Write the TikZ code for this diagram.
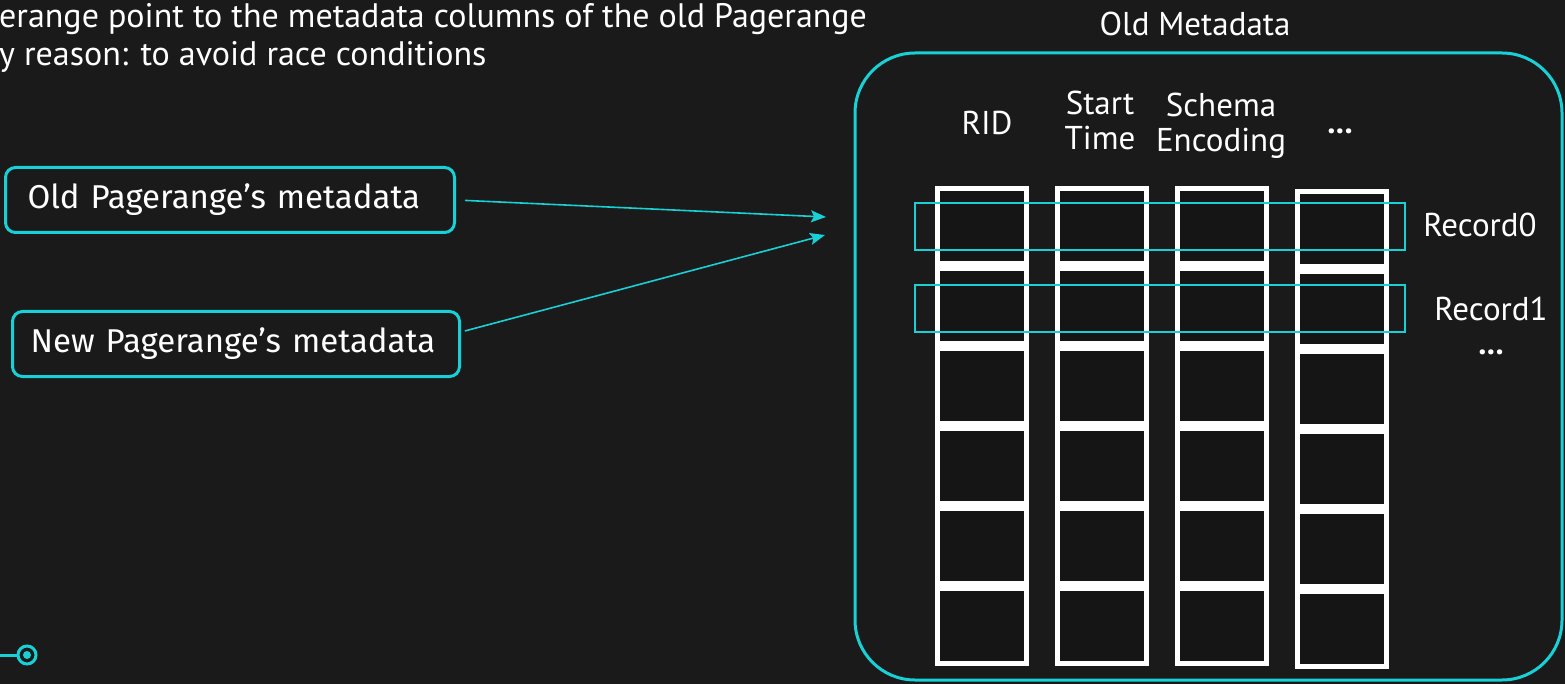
\documentclass[tikz,border=0pt]{standalone}
\usepackage{fontspec}
\setmainfont{PT Sans}
\newfontfamily\boxfont{Fira Sans}
\usetikzlibrary{arrows.meta}
\definecolor{bgcol}{HTML}{1A1A1A}
\definecolor{cellcol}{HTML}{151515}
\definecolor{accent}{HTML}{18D0D6}

\tikzset{
  label txt/.style={text=white, inner sep=0pt, font=\fontsize{33}{35}\selectfont},
  head txt/.style={label txt, align=center},
  dots txt/.style={label txt, font=\bfseries\fontsize{33}{35}\selectfont},
  pill/.style={draw=accent, line width=3pt, rounded corners=10pt, fill=bgcol,
    text=white, inner ysep=0pt, align=left, minimum height=65pt,
    font=\boxfont\fontsize{33}{36}\selectfont},
  cellbox/.style={draw=white, line width=5pt, fill=cellcol, inner sep=0pt,
    minimum width=89pt, minimum height=75pt, anchor=north west},
  recbox/.style={draw=accent, line width=1.6pt, inner sep=0pt,
    minimum width=490pt, minimum height=47pt},
  link/.style={draw=accent, line width=1.6pt,
    -{Stealth[length=15pt,width=12pt,inset=3pt]}},
}

\begin{document}
\begin{tikzpicture}[x=1pt,y=-1pt]
  \useasboundingbox (0,0) rectangle (1565,684);
  \fill[bgcol] (0,0) rectangle (1565,684);

  % caption lines at the top
  \node[label txt, anchor=base west, font=\fontsize{34}{36}\selectfont] (cap1) at (-1,28)
    {erange point to the metadata columns of the old Pagerange};
  \node[label txt, anchor=base west, font=\fontsize{34}{36}\selectfont] (cap2) at (-1,66)
    {y reason: to avoid race conditions};

  % the two metadata boxes
  \node[pill, inner xsep=22pt, text width=405pt] (oldmeta) at (230,200)
    {Old Pagerange’s metadata};
  \node[pill, inner xsep=18pt, text width=411pt] (newmeta) at (236,344)
    {New Pagerange’s metadata};

  % container of the old metadata columns
  \node[label txt, anchor=base] (title) at (1195,36) {Old Metadata};
  \draw[accent, line width=3pt, rounded corners=60pt] (855,53) rectangle (1562,680);

  % column headings (multi-line nodes sit on the baseline of their last line)
  \node[label txt, anchor=base] (hrid) at (987,135) {RID};
  \node[head txt, anchor=base] (hstart) at (1100,150) {Start\\Time};
  \node[head txt, anchor=base] (hschema) at (1221,152) {Schema\\Encoding};
  \node[dots txt, anchor=base] (hmore) at (1340,134) {...};

  % columns of cells
  \foreach \c/\x/\dy in {1/935/0, 2/1055/0, 3/1175/0, 4/1295/3} {
    \foreach \r in {0,...,5} {
      \node[cellbox] (cell-\c-\r) at (\x, 186+\dy+80*\r) {};
    }
  }

  % record rows
  \node[recbox] (rec0) at (1160,226.5) {};
  \node[recbox] (rec1) at (1160,308.5) {};
  \node[label txt, anchor=base] (lrec0) at (1480,237) {Record0};
  \node[label txt, anchor=base] (lrec1) at (1491,320) {Record1};
  \node[dots txt, anchor=base] (lmore) at (1491,354) {...};

  % connectors into the container
  \coordinate (tip0) at (826,217);
  \coordinate (tip1) at (825,235);
  \draw[link, shorten <=9pt] (oldmeta.east) -- (tip0);
  \draw[link, shorten <=4pt] (newmeta.east) ++(0,-12) -- (tip1);

  % corner marker
  \node[circle, draw=accent, line width=3pt, fill=bgcol, minimum size=18pt,
    inner sep=0pt] (marker) at (27,655) {};
  \fill[accent] (marker.center) circle (4pt);
  \coordinate (mstart) at (0,655);
  \draw[accent, line width=3pt] (mstart) -- (marker.west);
\end{tikzpicture}
\end{document}
